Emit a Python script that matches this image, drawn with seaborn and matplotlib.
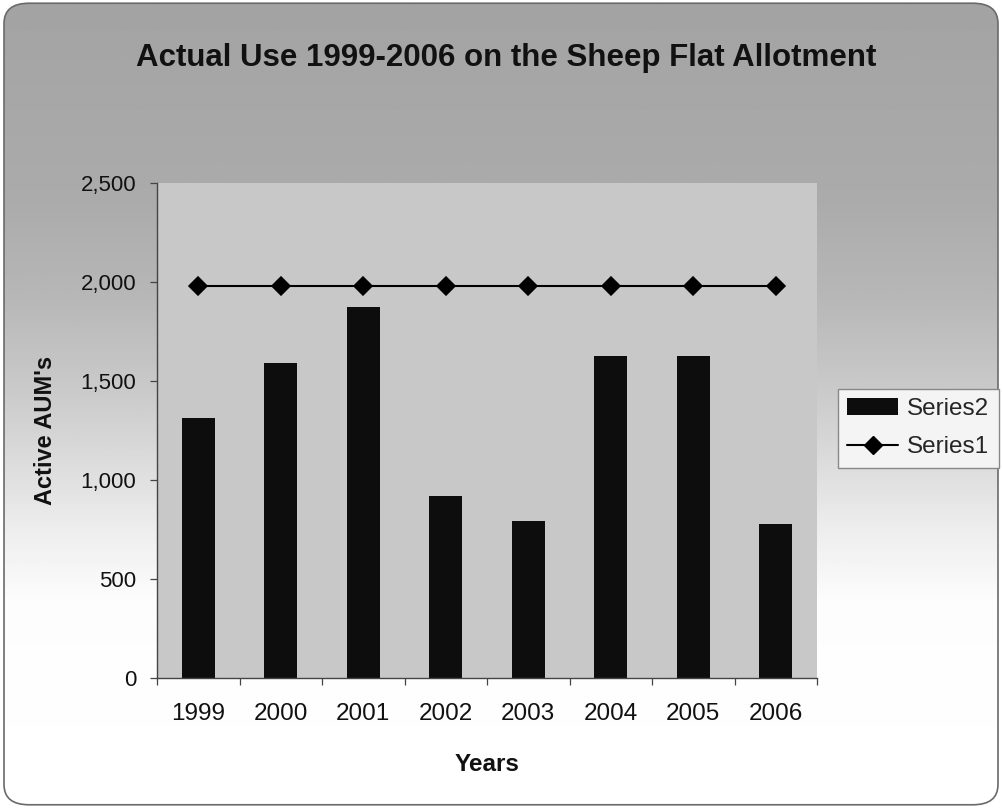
import numpy as np
import matplotlib
matplotlib.use("Agg")
import matplotlib.pyplot as plt
import seaborn as sns
from matplotlib.patches import FancyBboxPatch, Patch
from matplotlib.lines import Line2D
from matplotlib.ticker import FuncFormatter, FixedLocator

# Actual use per year (bars) and permitted level (line)
years = ["1999", "2000", "2001", "2002", "2003", "2004", "2005", "2006"]
series2 = [1315, 1590, 1875, 920, 795, 1625, 1625, 780]
series1 = [1980, 1980, 1980, 1980, 1980, 1980, 1980, 1980]
y_ticks = [0, 500, 1000, 1500, 2000, 2500]

title = "Actual Use 1999-2006 on the Sheep Flat Allotment"
x_title = "Years"
y_title = "Active AUM's"

sns.set_theme(style="white")
plt.rcParams["font.family"] = ["Liberation Sans", "DejaVu Sans"]

fig = plt.figure(figsize=(10.02, 8.08), dpi=100)
fig.patch.set_facecolor("white")

# Chart-area background: grey fading to white towards the bottom, rounded frame
bg = fig.add_axes([0, 0, 1, 1], zorder=-10)
bg.set_xlim(0, 1)
bg.set_ylim(0, 1)
bg.axis("off")
ys = np.linspace(0, 808, 400)
shade = np.interp(ys, [0, 200, 300, 400, 470, 530, 600, 808],
                  [0.64, 0.67, 0.72, 0.80, 0.87, 0.93, 0.99, 1.0])
grad = np.tile(shade[:, None], (1, 4))
frame = FancyBboxPatch((0.004, 0.004), 0.992, 0.992,
                       boxstyle="round,pad=0,rounding_size=0.025",
                       transform=bg.transAxes, facecolor="none",
                       edgecolor="#6a6a6a", linewidth=1.2)
im = bg.imshow(grad, extent=[0, 1, 0, 1], aspect="auto", cmap="gray",
               vmin=0, vmax=1, origin="upper", interpolation="bilinear")
bg.add_patch(frame)
im.set_clip_path(frame)

# Plot area
ax = fig.add_axes([0.1567, 0.1609, 0.6587, 0.6126])
ax.set_facecolor("#c8c8c8")

sns.barplot(x=years, y=series2, color="#0d0d0d", saturation=1, width=0.4,
            linewidth=0, ax=ax)
sns.pointplot(x=years, y=series1, color="black", markers="D", linestyles="-",
              markersize=9, linewidth=1.5, ax=ax)

ax.set_xlim(-0.5, len(years) - 0.5)
ax.set_ylim(0, 2500)
ax.set_yticks(y_ticks)
ax.yaxis.set_major_formatter(FuncFormatter(lambda v, p: f"{v:,.0f}"))
ax.set_xticks(range(len(years)))
ax.set_xticklabels(years)
ax.xaxis.set_minor_locator(FixedLocator(np.arange(-0.5, len(years), 1.0)))

ax.tick_params(axis="x", which="major", length=0, pad=18, labelsize=17.5,
               labelcolor="#111111")
ax.tick_params(axis="x", which="minor", length=5, width=0.9, direction="out",
               color="#444444", bottom=True)
ax.tick_params(axis="y", which="major", length=5, width=0.9, direction="out",
               color="#444444", pad=10, labelsize=16, labelcolor="#111111",
               left=True)

for side in ["top", "right"]:
    ax.spines[side].set_visible(False)
for side in ["left", "bottom"]:
    ax.spines[side].set_color("#444444")
    ax.spines[side].set_linewidth(1.0)

ax.set_xlabel(x_title, fontsize=17.5, fontweight="bold", color="#111111")
ax.set_ylabel(y_title, fontsize=17, fontweight="bold", color="#111111")
ax.xaxis.set_label_coords(0.5, -0.152)
ax.yaxis.set_label_coords(-0.152, 0.5)

fig.text(0.505, 1 - 58 / 808, title, ha="center", va="center", fontsize=22.5,
         fontweight="bold", color="#111111")

handles = [
    Patch(facecolor="#0d0d0d", edgecolor="none", label="Series2"),
    Line2D([], [], color="black", marker="D", markersize=9, linewidth=1.5,
           label="Series1"),
]
fig.legend(handles=handles, loc="upper left", bbox_to_anchor=(0.836, 0.519),
           frameon=True, fancybox=False, edgecolor="#888888",
           facecolor="#f4f4f4", framealpha=1, fontsize=17.5, handlelength=2.1,
           handletextpad=0.35, borderpad=0.4, labelspacing=0.65,
           borderaxespad=0)

fig.savefig("out.png", dpi=100)
